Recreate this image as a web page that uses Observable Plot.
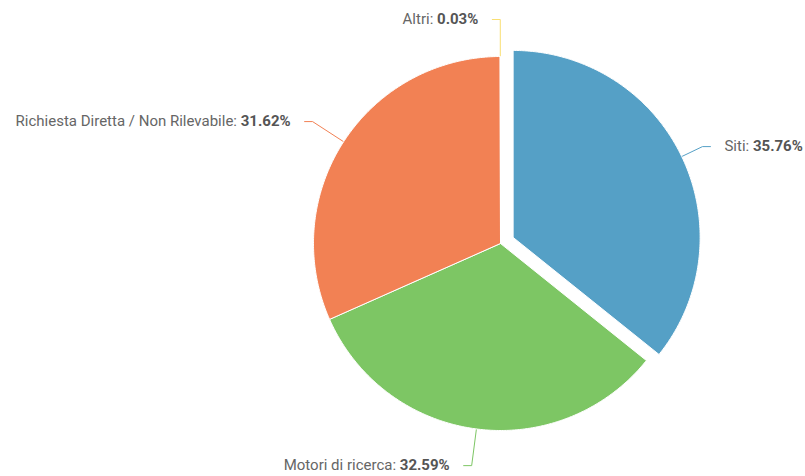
<!DOCTYPE html>
<html><head><meta charset="utf-8">
<script src="https://cdn.jsdelivr.net/npm/d3@7"></script>
<script src="https://cdn.jsdelivr.net/npm/@observablehq/plot@0.6"></script>
<style>body{margin:0;background:#fff}</style>
</head><body><div id="chart"></div>
<script>
// ---- data ----
const categories = ["Siti", "Motori di ricerca", "Richiesta Diretta / Non Rilevabile", "Altri"];
const shares = [35.76, 32.59, 31.62, 0.03];
const colors = ["#55a0c6", "#7dc664", "#f28154", "#f9df73"];
const sliced = [true, false, false, false];

// ---- layout ----
const W = 805, H = 476, cx = 500, cy = 243, R = 187, slicedOffset = 14, labelDist = 37;
const segLen = 8, textGap = 14, fs = 15;

const arcs = d3.pie().sort(null).value(d => d)(shares);

const slicePts = [];
const connPts = [];
const labels = [];
arcs.forEach((a, i) => {
  const mid = (a.startAngle + a.endAngle) / 2;
  const ox = sliced[i] ? slicedOffset * Math.sin(mid) : 0;
  const oy = sliced[i] ? -slicedOffset * Math.cos(mid) : 0;
  const c = [cx + ox, cy + oy];
  slicePts.push({k: i, x: c[0], y: c[1]});
  const n = Math.max(2, Math.ceil((a.endAngle - a.startAngle) / (Math.PI / 360)));
  for (let j = 0; j <= n; j++) {
    const t = a.startAngle + (a.endAngle - a.startAngle) * j / n;
    slicePts.push({k: i, x: c[0] + R * Math.sin(t), y: c[1] - R * Math.cos(t)});
  }
  slicePts.push({k: i, x: c[0], y: c[1]});
  // connector
  const right = Math.sin(mid) > 0;
  const sx = c[0] + R * Math.sin(mid), sy = c[1] - R * Math.cos(mid);
  const ex = cx + (R + labelDist) * Math.sin(mid), ey = cy - (R + labelDist) * Math.cos(mid);
  const hx = ex + (right ? segLen : -segLen);
  connPts.push({k: i, x: sx, y: sy}, {k: i, x: ex, y: ey}, {k: i, x: hx, y: ey});
  labels.push({
    x: hx + (right ? textGap : -textGap), y: ey,
    anchor: right ? "start" : "end",
    text: `${categories[i]}: ${shares[i].toFixed(2)}%`
  });
});

const color = {domain: d3.range(categories.length), range: colors};

const plot = Plot.plot({
  width: W, height: H,
  margin: 0,
  x: {domain: [0, W], range: [0, W], axis: null},
  y: {domain: [0, H], range: [0, H], axis: null},
  color,
  style: {fontFamily: "Roboto, sans-serif", fontSize: fs + "px", background: "#fff"},
  marks: [
    Plot.line(connPts, {x: "x", y: "y", z: "k", stroke: d => d.k, strokeWidth: 1, curve: "linear"}),
    Plot.line(slicePts, {x: "x", y: "y", z: "k", fill: d => d.k, stroke: "white", strokeWidth: 1, strokeLinejoin: "round", curve: "linear"}),
    Plot.text(labels.filter(d => d.anchor === "start"), {x: "x", y: "y", text: "text", textAnchor: "start", fill: "#666", fontSize: fs}),
    Plot.text(labels.filter(d => d.anchor === "end"), {x: "x", y: "y", text: "text", textAnchor: "end", fill: "#666", fontSize: fs})
  ]
});

// split label into normal name and bold value
plot.querySelectorAll("text").forEach(t => {
  const s = t.textContent;
  const m = s.match(/^(.*: )([\d.]+%)$/);
  if (!m) return;
  t.textContent = "";
  const a = document.createElementNS("http://www.w3.org/2000/svg", "tspan");
  a.textContent = m[1];
  const b = document.createElementNS("http://www.w3.org/2000/svg", "tspan");
  b.textContent = m[2];
  b.setAttribute("font-weight", "bold");
  b.setAttribute("fill", "#555");
  t.appendChild(a); t.appendChild(b);
});

document.getElementById("chart").appendChild(plot);
</script>
</body></html>
